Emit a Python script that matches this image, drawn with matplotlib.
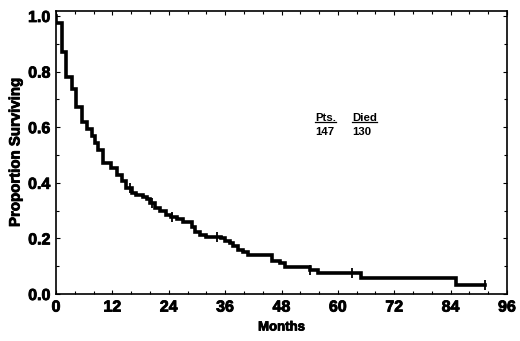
import matplotlib; matplotlib.use("Agg")
import matplotlib.pyplot as plt
import matplotlib.patheffects as pe
from matplotlib.ticker import MultipleLocator

# Kaplan-Meier steps (months, survival after the step)
t_step = [0.0, 0.05, 1.3, 2.2, 3.3, 4.3, 5.5, 6.5, 7.6, 8.3, 9.0, 10.1, 11.8, 12.9, 14.0,
          15.0, 16.1, 17.0, 18.5, 19.3, 20.0, 21.0, 22.2, 23.5, 24.5, 25.7, 27.0, 28.9,
          29.5, 30.6, 32.0, 35.2, 36.0, 37.0, 37.7, 38.8, 39.9, 40.9, 45.9, 47.7, 48.7,
          54.0, 55.7, 65.0, 85.2, 91.3]
s_step = [1.0, 0.973, 0.872, 0.782, 0.737, 0.674, 0.620, 0.592, 0.570, 0.543, 0.518, 0.470,
          0.453, 0.428, 0.408, 0.380, 0.363, 0.356, 0.348, 0.340, 0.327, 0.310, 0.300, 0.284,
          0.278, 0.270, 0.260, 0.240, 0.224, 0.212, 0.206, 0.200, 0.190, 0.182, 0.173, 0.158,
          0.150, 0.140, 0.120, 0.110, 0.097, 0.086, 0.075, 0.058, 0.032, 0.032]
# censored observations (tick marks on the curve)
t_cens = [15.8, 20.4, 24.6, 34.2, 54.0, 63.1, 91.3]

n_pts, n_died = 147, 130

def surv_at(t):
    v = s_step[0]
    for a, b in zip(t_step, s_step):
        if a <= t: v = b
    return v

plt.rcParams["font.family"] = ["Liberation Sans", "DejaVu Sans"]
plt.rcParams["font.weight"] = "bold"
heavy = [pe.withStroke(linewidth=0.6, foreground="black")]
fig = plt.figure(figsize=(5.2, 3.41), dpi=100)
ax = fig.add_axes([0.1077, 0.1378, 0.8673, 0.83])

ax.step(t_step, s_step, where="post", color="black", lw=2.6, solid_joinstyle="miter")
ax.plot(t_cens, [surv_at(t) for t in t_cens], ls="none", marker="|", ms=6.5, mew=1.3, color="black")

ax.set_xlim(0, 96); ax.set_ylim(0, 1.018)
ax.xaxis.set_major_locator(MultipleLocator(12)); ax.xaxis.set_minor_locator(MultipleLocator(4))
ax.yaxis.set_major_locator(MultipleLocator(0.2)); ax.yaxis.set_minor_locator(MultipleLocator(0.1))
ax.yaxis.set_major_formatter(matplotlib.ticker.FormatStrFormatter("%.1f"))
ax.tick_params(which="both", direction="in", top=True, right=True, width=0.8)
ax.tick_params(which="major", length=3, labelsize=11.5, pad=4)
ax.tick_params(which="minor", length=2)
for lab in ax.get_xticklabels() + ax.get_yticklabels(): lab.set_path_effects(heavy)
for sp in ax.spines.values(): sp.set_linewidth(1.2)

ax.set_xlabel("Months", fontsize=9.5, fontweight="bold", labelpad=5, path_effects=heavy)
ax.set_ylabel("Proportion Surviving", fontsize=10.8, fontweight="bold", labelpad=4, path_effects=heavy)

# legend-like block
hdr = [ax.text(55.1, 0.632, "Pts.", fontsize=8.2, fontweight="bold", va="center"),
       ax.text(63.1, 0.632, "Died", fontsize=8.2, fontweight="bold", va="center")]
ax.text(55.1, 0.584, str(n_pts), fontsize=8.2, fontweight="bold", va="center")
ax.text(63.1, 0.584, str(n_died), fontsize=8.2, fontweight="bold", va="center")
fig.canvas.draw()
inv = ax.transData.inverted()
for h in hdr:
    bb = h.get_window_extent()
    (x0, y0), (x1, _) = inv.transform([(bb.x0, bb.y0 + 1.5), (bb.x1, bb.y0 + 1.5)])
    ax.plot([x0, x1], [y0, y0], color="black", lw=0.9)

fig.savefig("out.png", dpi=100)
